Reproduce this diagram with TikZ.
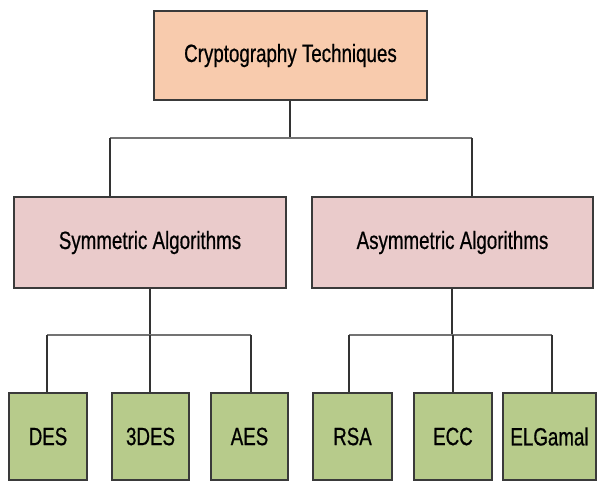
\documentclass[tikz,border=0pt]{standalone}
\usepackage{fontspec}
\setmainfont[FakeStretch=0.75,FakeBold=0.6]{Liberation Sans}
\usetikzlibrary{shadows}
\definecolor{topfill}{HTML}{F8CBAD}
\definecolor{midfill}{HTML}{EACBCB}
\definecolor{leaffill}{HTML}{B7CB8B}
\definecolor{edgecol}{HTML}{3A3A3A}
\begin{document}
\begin{tikzpicture}[x=1pt,y=-1pt,
  box/.style={draw=edgecol,line width=1.3pt,minimum width=#1,inner sep=0pt,
    drop shadow={shadow xshift=1pt,shadow yshift=-1pt,opacity=0.35},
    font=\fontsize{25}{29}\selectfont},
  topbox/.style={box=273pt,fill=topfill,minimum height=89pt},
  midbox/.style={box=#1,fill=midfill,minimum height=91pt},
  leafbox/.style={box=#1,fill=leaffill,minimum height=87pt},
  link/.style={draw=black!80,line width=1.2pt},
  bus/.style={draw=black!55,line width=2pt}]
\useasboundingbox (0,0) rectangle (597,483);
\node[topbox] (top) at (290.5,55.5) {Cryptography Techniques};
\node[midbox=272pt] (sym) at (150,242.5) {Symmetric Algorithms};
\node[midbox=281pt] (asym) at (452.5,242.5) {Asymmetric Algorithms};
\node[leafbox=78pt] (des) at (48,436.5) {DES};
\node[leafbox=77pt] (tdes) at (150.5,436.5) {3DES};
\node[leafbox=77pt] (aes) at (249.5,436.5) {AES};
\node[leafbox=79pt] (rsa) at (352.5,436.5) {RSA};
\node[leafbox=78pt] (ecc) at (453,436.5) {ECC};
\node[leafbox=93pt] (elg) at (549.5,436.5) {ELGamal};
% top level bus
\coordinate (t0) at (290,138);
\coordinate (tL) at (110,138);
\coordinate (tR) at (472,138);
\draw[link] (top.south -| t0) -- (t0);
\draw[bus] (tL) -- (tR);
\draw[link] (tL) -- (tL |- sym.north);
\draw[link] (tR) -- (tR |- asym.north);
% symmetric bus
\coordinate (s0) at (150,335);
\coordinate (sL) at (47,335);
\coordinate (sM) at (150,335);
\coordinate (sR) at (251,335);
\draw[link] (sym.south -| s0) -- (s0);
\draw[bus] (sL) -- (sR);
\draw[link] (sL) -- (sL |- des.north);
\draw[link] (sM) -- (sM |- tdes.north);
\draw[link] (sR) -- (sR |- aes.north);
% asymmetric bus
\coordinate (a0) at (452,335);
\coordinate (aL) at (349,335);
\coordinate (aM) at (453,335);
\coordinate (aR) at (552,335);
\draw[link] (asym.south -| a0) -- (a0);
\draw[bus] (aL) -- (aR);
\draw[link] (aL) -- (aL |- rsa.north);
\draw[link] (aM) -- (aM |- ecc.north);
\draw[link] (aR) -- (aR |- elg.north);
\end{tikzpicture}
\end{document}
